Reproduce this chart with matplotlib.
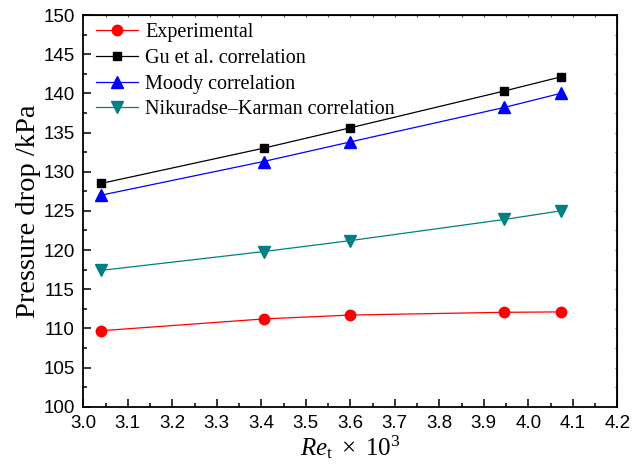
import numpy as np
import matplotlib
matplotlib.use('Agg')
import matplotlib.pyplot as plt
from matplotlib.ticker import MultipleLocator, NullFormatter

plt.rcParams['mathtext.fontset'] = 'custom'
plt.rcParams['mathtext.rm'] = 'Liberation Serif'
plt.rcParams['mathtext.it'] = 'Liberation Serif:italic'

# Reynolds number (x 10^3) and pressure drop (kPa)
re_t = [3.04, 3.405, 3.60, 3.946, 4.073]
experimental = [109.7, 111.2, 111.7, 112.05, 112.1]
gu_corr = [128.5, 133.0, 135.6, 140.3, 142.1]
moody_corr = [127.0, 131.3, 133.8, 138.2, 140.0]
nikuradse_corr = [117.4, 119.8, 121.2, 123.9, 125.0]

labels = ['Experimental', 'Gu et al. correlation', 'Moody correlation',
          'Nikuradse\u2013Karman correlation']
colors = ['#ff0000', '#000000', '#0000ff', '#008080']
markers = ['o', 's', '^', 'v']
msizes = [7.5, 6, 8, 8]

xticks = np.round(np.arange(3.0, 4.21, 0.1), 1)
yticks = np.arange(100, 151, 5)

fig = plt.figure(figsize=(6.35, 4.75), dpi=100)
ax = fig.add_axes([0.1312, 0.1438, 0.8409, 0.8246])

series = [experimental, gu_corr, moody_corr, nikuradse_corr]
for vals, lab, c, m, ms in zip(series, labels, colors, markers, msizes):
    ax.plot(re_t, vals, color=c, marker=m, markersize=ms, linewidth=0.9,
            label=lab)

ax.set_xlim(3.0, 4.2)
ax.set_ylim(100, 150)

tick_font = {'family': 'Liberation Sans', 'size': 13.5}
ax.set_xticks(xticks)
ax.set_xticklabels(['%.1f' % v for v in xticks], fontdict=tick_font)
ax.set_yticks(yticks)
ax.set_yticklabels(['%d' % v for v in yticks], fontdict=tick_font)
ax.xaxis.set_minor_locator(MultipleLocator(0.05))
ax.yaxis.set_minor_locator(MultipleLocator(2.5))

ax.tick_params(which='both', direction='in', width=1.1)
ax.tick_params(which='major', length=5.5, pad=6)
ax.tick_params(which='minor', length=3)
for s in ax.spines.values():
    s.set_linewidth(1.3)

# tiny ticks on top and right spines
top = ax.secondary_xaxis('top')
top.xaxis.set_major_locator(MultipleLocator(0.05))
top.xaxis.set_major_formatter(NullFormatter())
top.tick_params(direction='in', length=1.5, width=0.8, color='#555555')
right = ax.secondary_yaxis('right')
right.yaxis.set_major_locator(MultipleLocator(2.5))
right.yaxis.set_major_formatter(NullFormatter())
right.tick_params(direction='in', length=1.5, width=0.8, color='#555555')

ax.set_ylabel('Pressure drop /kPa', family='Liberation Serif', size=20.5, labelpad=2)
ax.set_xlabel(r'$\mathit{Re}_{\mathrm{t}}\ \times\ 10^{3}$', size=18, labelpad=1)

leg = ax.legend(loc='upper left', bbox_to_anchor=(0.008, 1.0), frameon=False,
                prop={'family': 'Liberation Serif', 'size': 14.5},
                handlelength=2.1, handletextpad=0.35, labelspacing=0.33,
                borderaxespad=0.2, borderpad=0.2)

fig.savefig('out.png', dpi=100)
